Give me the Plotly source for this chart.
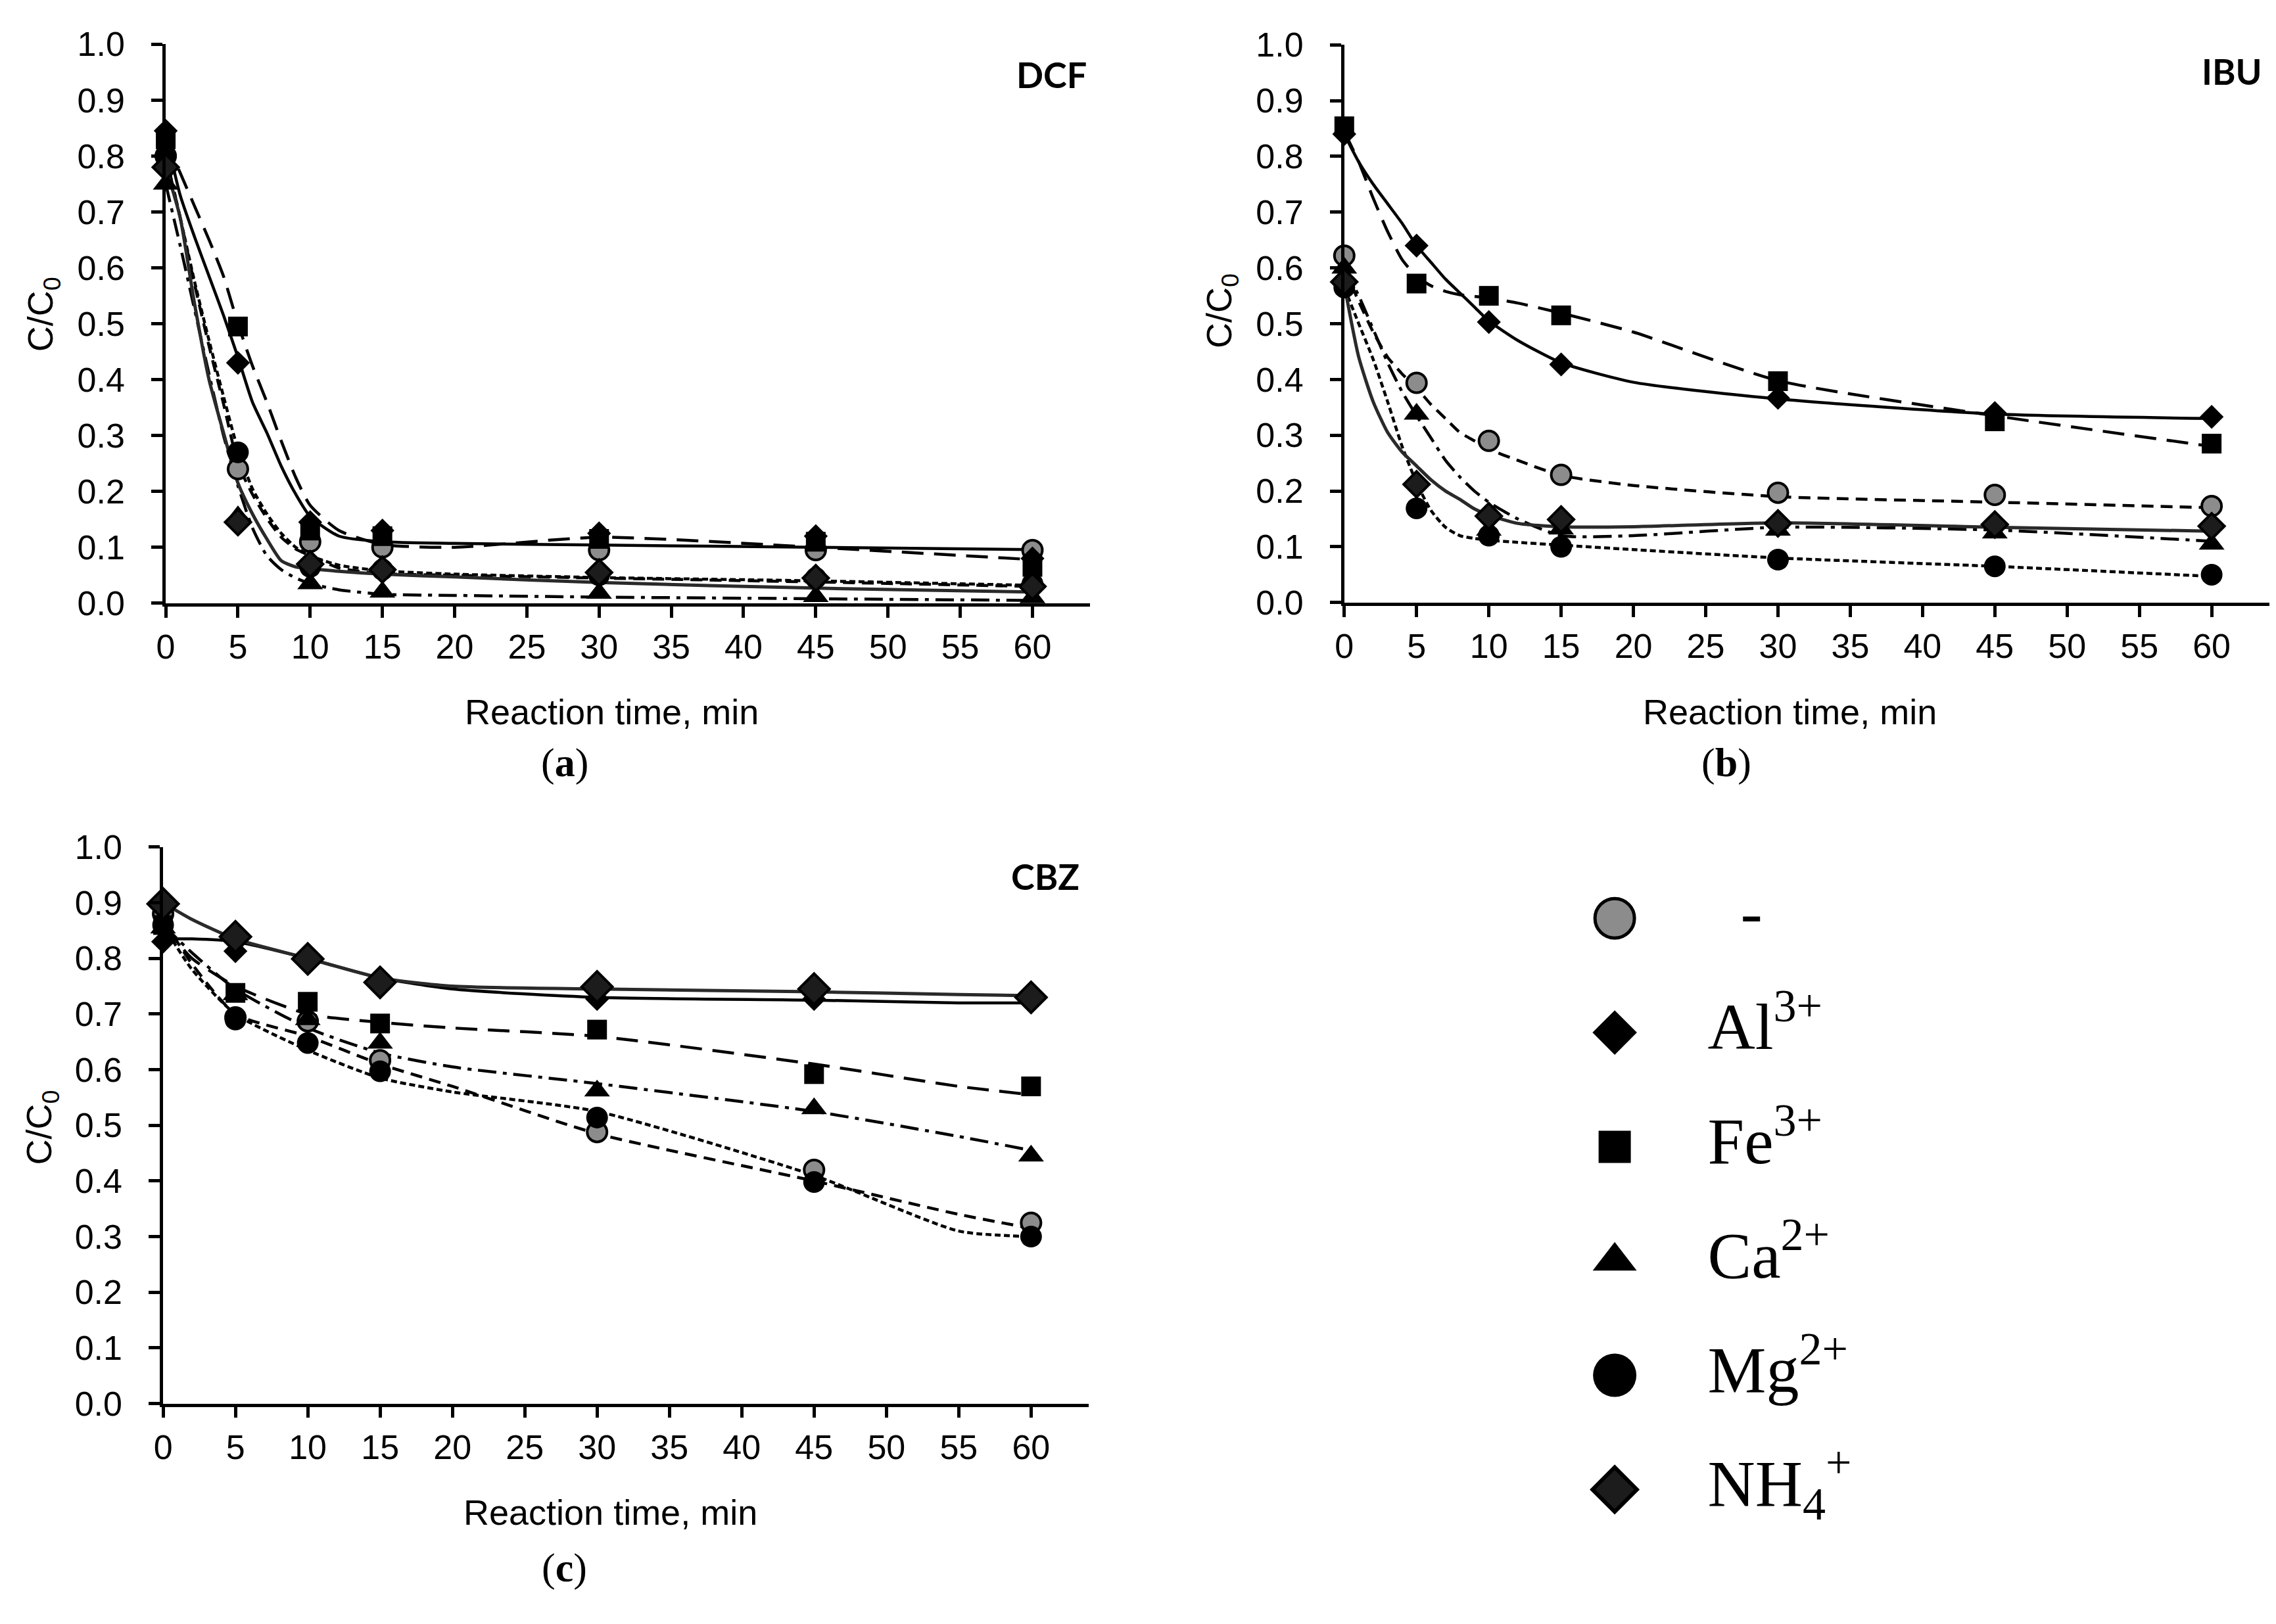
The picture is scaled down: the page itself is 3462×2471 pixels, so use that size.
import plotly.graph_objects as go

# ---------------- data ----------------
series_names = ["-", "Al3+", "Fe3+", "Ca2+", "Mg2+", "NH4+"]
legend_labels = ["\u00a0\u00a0-", "Al<sup>3+</sup>", "Fe<sup>3+</sup>", "Ca<sup>2+</sup>",
                 "Mg<sup>2+</sup>", "NH<sub>4</sub><sup>+</sup>"]
panel_titles = ["DCF", "IBU", "CBZ"]
panel_letters = ["a", "b", "c"]

t_points = [0, 5, 10, 15, 30, 45, 60]
x_tick_vals = [0, 5, 10, 15, 20, 25, 30, 35, 40, 45, 50, 55, 60]
y_tick_vals = [0.0, 0.1, 0.2, 0.3, 0.4, 0.5, 0.6, 0.7, 0.8, 0.9, 1.0]
y_tick_text = ["0.0", "0.1", "0.2", "0.3", "0.4", "0.5", "0.6", "0.7", "0.8", "0.9", "1.0"]

# measured points (C/C0)
dcf_none = [0.80, 0.24, 0.11, 0.10, 0.095, 0.095, 0.095]
dcf_al = [0.845, 0.43, 0.145, 0.13, 0.125, 0.12, 0.08]
dcf_fe = [0.83, 0.495, 0.13, 0.12, 0.115, 0.11, 0.065]
dcf_ca = [0.75, 0.155, 0.035, 0.02, 0.018, 0.012, 0.01]
dcf_mg = [0.80, 0.27, 0.065, 0.06, 0.05, 0.045, 0.035]
dcf_nh4 = [0.78, 0.145, 0.07, 0.06, 0.055, 0.045, 0.03]

ibu_none = [0.622, 0.394, 0.290, 0.229, 0.197, 0.193, 0.173]
ibu_al = [0.84, 0.64, 0.503, 0.427, 0.367, 0.34, 0.333]
ibu_fe = [0.854, 0.572, 0.55, 0.515, 0.397, 0.325, 0.285]
ibu_ca = [0.60, 0.338, 0.13, 0.132, 0.13, 0.125, 0.105]
ibu_mg = [0.565, 0.169, 0.12, 0.10, 0.077, 0.065, 0.05]
ibu_nh4 = [0.575, 0.212, 0.155, 0.149, 0.142, 0.14, 0.137]

cbz_none = [0.88, 0.694, 0.687, 0.617, 0.488, 0.42, 0.325]
cbz_al = [0.83, 0.813, 0.795, 0.755, 0.727, 0.727, 0.725]
cbz_fe = [0.86, 0.738, 0.722, 0.683, 0.672, 0.592, 0.57]
cbz_ca = [0.855, 0.735, 0.69, 0.648, 0.562, 0.53, 0.445]
cbz_mg = [0.86, 0.69, 0.648, 0.597, 0.514, 0.398, 0.30]
cbz_nh4 = [0.898, 0.839, 0.799, 0.757, 0.749, 0.745, 0.73]

# model curves
t_fit_ab = [0, 1, 2, 3, 4, 5, 6, 7, 8, 9, 10, 12, 15, 20, 30, 45, 60]
dcf_fit_none = [0.80, 0.69, 0.57, 0.46, 0.357, 0.25, 0.195, 0.152, 0.118, 0.097, 0.085, 0.063, 0.053, 0.05, 0.045, 0.038, 0.03]
dcf_fit_al = [0.84, 0.73, 0.655, 0.585, 0.515, 0.44, 0.36, 0.305, 0.245, 0.195, 0.155, 0.12, 0.11, 0.107, 0.104, 0.10, 0.096]
dcf_fit_fe = [0.83, 0.77, 0.71, 0.65, 0.585, 0.50, 0.425, 0.36, 0.29, 0.225, 0.175, 0.13, 0.105, 0.10, 0.118, 0.10, 0.078]
dcf_fit_ca = [0.75, 0.64, 0.525, 0.41, 0.30, 0.21, 0.135, 0.085, 0.06, 0.045, 0.035, 0.024, 0.016, 0.014, 0.011, 0.008, 0.005]
dcf_fit_mg = [0.80, 0.69, 0.575, 0.47, 0.37, 0.275, 0.205, 0.16, 0.125, 0.10, 0.085, 0.068, 0.058, 0.052, 0.046, 0.04, 0.032]
dcf_fit_nh4 = [0.78, 0.69, 0.535, 0.40, 0.305, 0.215, 0.16, 0.115, 0.076, 0.065, 0.062, 0.057, 0.052, 0.047, 0.037, 0.027, 0.02]

ibu_fit_none = [0.60, 0.54, 0.485, 0.44, 0.41, 0.385, 0.355, 0.33, 0.305, 0.29, 0.275, 0.255, 0.228, 0.21, 0.19, 0.18, 0.17]
ibu_fit_al = [0.84, 0.79, 0.75, 0.715, 0.68, 0.64, 0.61, 0.58, 0.555, 0.53, 0.505, 0.47, 0.43, 0.395, 0.365, 0.338, 0.33]
ibu_fit_fe = [0.845, 0.79, 0.725, 0.665, 0.615, 0.585, 0.568, 0.558, 0.552, 0.549, 0.546, 0.537, 0.519, 0.485, 0.398, 0.335, 0.28]
ibu_fit_ca = [0.60, 0.55, 0.49, 0.43, 0.378, 0.335, 0.295, 0.255, 0.225, 0.20, 0.18, 0.15, 0.12, 0.12, 0.135, 0.13, 0.11]
ibu_fit_mg = [0.565, 0.50, 0.436, 0.36, 0.28, 0.215, 0.165, 0.135, 0.12, 0.115, 0.112, 0.108, 0.103, 0.095, 0.08, 0.065, 0.047]
ibu_fit_nh4 = [0.57, 0.44, 0.36, 0.305, 0.27, 0.245, 0.22, 0.20, 0.185, 0.168, 0.157, 0.142, 0.136, 0.136, 0.143, 0.135, 0.128]

t_fit_c = [0, 2, 5, 10, 15, 20, 30, 45, 55, 60]
cbz_fit_none = [0.87, 0.79, 0.70, 0.66, 0.61, 0.57, 0.485, 0.40, 0.34, 0.315]
cbz_fit_al = [0.835, 0.835, 0.83, 0.80, 0.765, 0.745, 0.73, 0.725, 0.72, 0.72]
cbz_fit_fe = [0.86, 0.80, 0.75, 0.70, 0.685, 0.675, 0.66, 0.61, 0.57, 0.555]
cbz_fit_ca = [0.86, 0.81, 0.745, 0.675, 0.63, 0.605, 0.575, 0.525, 0.48, 0.455]
cbz_fit_mg = [0.86, 0.78, 0.70, 0.635, 0.585, 0.56, 0.525, 0.41, 0.31, 0.30]
cbz_fit_nh4 = [0.90, 0.87, 0.835, 0.80, 0.765, 0.75, 0.745, 0.74, 0.735, 0.733]

panels = [
    dict(t_fit=t_fit_ab,
         pts=[dcf_none, dcf_al, dcf_fe, dcf_ca, dcf_mg, dcf_nh4],
         fit=[dcf_fit_none, dcf_fit_al, dcf_fit_fe, dcf_fit_ca, dcf_fit_mg, dcf_fit_nh4]),
    dict(t_fit=t_fit_ab,
         pts=[ibu_none, ibu_al, ibu_fe, ibu_ca, ibu_mg, ibu_nh4],
         fit=[ibu_fit_none, ibu_fit_al, ibu_fit_fe, ibu_fit_ca, ibu_fit_mg, ibu_fit_nh4]),
    dict(t_fit=t_fit_c,
         pts=[cbz_none, cbz_al, cbz_fe, cbz_ca, cbz_mg, cbz_nh4],
         fit=[cbz_fit_none, cbz_fit_al, cbz_fit_fe, cbz_fit_ca, cbz_fit_mg, cbz_fit_nh4]),
]

# ---------------- styles ----------------
W, H = 3462, 2471
marker_style = [
    dict(symbol="circle", color="#8c8c8c", line=dict(color="black", width=4), size=30),
    dict(symbol="diamond", color="black", line=dict(width=0), size=28),
    dict(symbol="square", color="black", line=dict(width=0), size=30),
    dict(symbol="triangle-up", color="black", line=dict(width=0), size=34),
    dict(symbol="circle", color="black", line=dict(width=0), size=33),
    dict(symbol="diamond", color="#1c1c1c", line=dict(color="black", width=4), size=30),
]
nh4_size_c = 36
line_style = [
    dict(color="black", width=4.5, dash="18px,11px"),
    dict(color="black", width=4.5, dash="solid"),
    dict(color="black", width=4.5, dash="33px,16px"),
    dict(color="black", width=4.5, dash="28px,10px,6px,10px"),
    dict(color="black", width=4.5, dash="9px,5px"),
    dict(color="#2a2a2a", width=5, dash="solid"),
]
legend_sizes = [60, 52, 49, 58, 66, 52]
legend_line_widths = [5, 0, 0, 0, 0, 6]

# pixel geometry -> paper domains
def xd(a, b):
    return [a / W, b / W]

def yd(top, bottom):
    return [1 - bottom / H, 1 - top / H]

domains = [
    (xd(231, 1643), yd(31, 902)),
    (xd(2031, 3444), yd(32, 901)),
    (xd(227, 1641), yd(1282, 2149)),
]

fig = go.Figure()
tick_font = dict(family="Liberation Sans, Arial", size=52, color="black")

for p, panel in enumerate(panels):
    xa = "x" if p == 0 else f"x{p+1}"
    ya = "y" if p == 0 else f"y{p+1}"
    for s in range(6):
        fig.add_trace(go.Scatter(
            x=panel["t_fit"], y=panel["fit"][s], mode="lines",
            line=dict(shape="spline", smoothing=0.6, **line_style[s]),
            xaxis=xa, yaxis=ya, cliponaxis=False, hoverinfo="skip", showlegend=False))
    for s in range(6):
        ms = dict(marker_style[s])
        if p == 2 and s == 5:
            ms["size"] = nh4_size_c
        fig.add_trace(go.Scatter(
            x=t_points, y=panel["pts"][s], mode="markers", marker=dict(ms, opacity=1),
            xaxis=xa, yaxis=ya, cliponaxis=False, name=series_names[s], showlegend=False))

axis_common = dict(showline=True, linecolor="black", linewidth=4.5, ticks="outside",
                   ticklen=17, tickwidth=4.5, tickcolor="black", showgrid=False,
                   zeroline=False, tickfont=tick_font)
layout_axes = {}
for p in range(3):
    kx = "xaxis" if p == 0 else f"xaxis{p+1}"
    ky = "yaxis" if p == 0 else f"yaxis{p+1}"
    ya = "y" if p == 0 else f"y{p+1}"
    xa = "x" if p == 0 else f"x{p+1}"
    layout_axes[kx] = dict(axis_common, domain=domains[p][0], range=[0, 64],
                           tickmode="array", tickvals=x_tick_vals, anchor=ya,
                           ticklabelstandoff=0)
    layout_axes[ky] = dict(axis_common, domain=domains[p][1], range=[0, 1],
                           tickmode="array", tickvals=y_tick_vals, ticktext=y_tick_text,
                           anchor=xa, ticklabelstandoff=30)

# legend panel (own hidden axes)
fig.add_trace(go.Scatter(
    x=[0] * 6, y=series_names, mode="markers",
    marker=dict(symbol=[m["symbol"] for m in marker_style],
                color=[m["color"] for m in marker_style],
                size=legend_sizes, opacity=1,
                line=dict(color="black", width=legend_line_widths)),
    xaxis="x4", yaxis="y4", cliponaxis=False, showlegend=False, hoverinfo="skip"))
fig.add_trace(go.Scatter(
    x=[1] * 6, y=series_names, mode="text", text=legend_labels,
    textposition="middle right",
    textfont=dict(family="Liberation Serif, Times New Roman", size=100, color="black"),
    xaxis="x4", yaxis="y4", cliponaxis=False, showlegend=False, hoverinfo="skip"))
layout_axes["xaxis4"] = dict(domain=xd(2380, 2980), range=[-0.4507, 3.775], visible=False,
                             anchor="y4")
layout_axes["yaxis4"] = dict(domain=yd(1304, 2372), range=[5.5, -0.5], visible=False,
                             type="category", categoryorder="array",
                             categoryarray=series_names, anchor="x4")

# text annotations
ann = []
title_font = dict(family="Liberation Sans, Arial", size=54, color="black")
for cx, cy in [(912, 1071), (2711, 1071), (910, 2318)]:
    ann.append(dict(text="Reaction time, min", x=cx / W, y=1 - cy / H, xref="paper",
                    yref="paper", showarrow=False, font=title_font,
                    xanchor="center", yanchor="middle"))
for cx, cy in [(44, 452), (1843, 447), (41, 1719)]:
    ann.append(dict(text="C/C<sub>0</sub>", x=cx / W, y=1 - cy / H, xref="paper",
                    yref="paper", showarrow=False, font=title_font, textangle=-90,
                    xanchor="center", yanchor="middle"))
for name, (rx, cy) in zip(panel_titles, [(1640, 78), (3435, 73), (1629, 1328)]):
    ann.append(dict(text=f"<b>{name}</b>", x=rx / W, y=1 - cy / H, xref="paper",
                    yref="paper", showarrow=False,
                    font=dict(family="Lato, Open Sans", size=54, color="black"),
                    xanchor="right", yanchor="middle"))
for letter, (cx, cy) in zip(panel_letters, [(840, 1150), (2615, 1150), (840, 2405)]):
    ann.append(dict(text=f"(<b>{letter}</b>)", x=cx / W, y=1 - cy / H, xref="paper",
                    yref="paper", showarrow=False,
                    font=dict(family="Liberation Serif, Times New Roman", size=62,
                              color="black"),
                    xanchor="center", yanchor="middle"))

fig.update_layout(width=W, height=H, margin=dict(l=0, r=0, t=0, b=0),
                  paper_bgcolor="white", plot_bgcolor="white", showlegend=False,
                  annotations=ann, **layout_axes)

fig.write_html("out.html")
